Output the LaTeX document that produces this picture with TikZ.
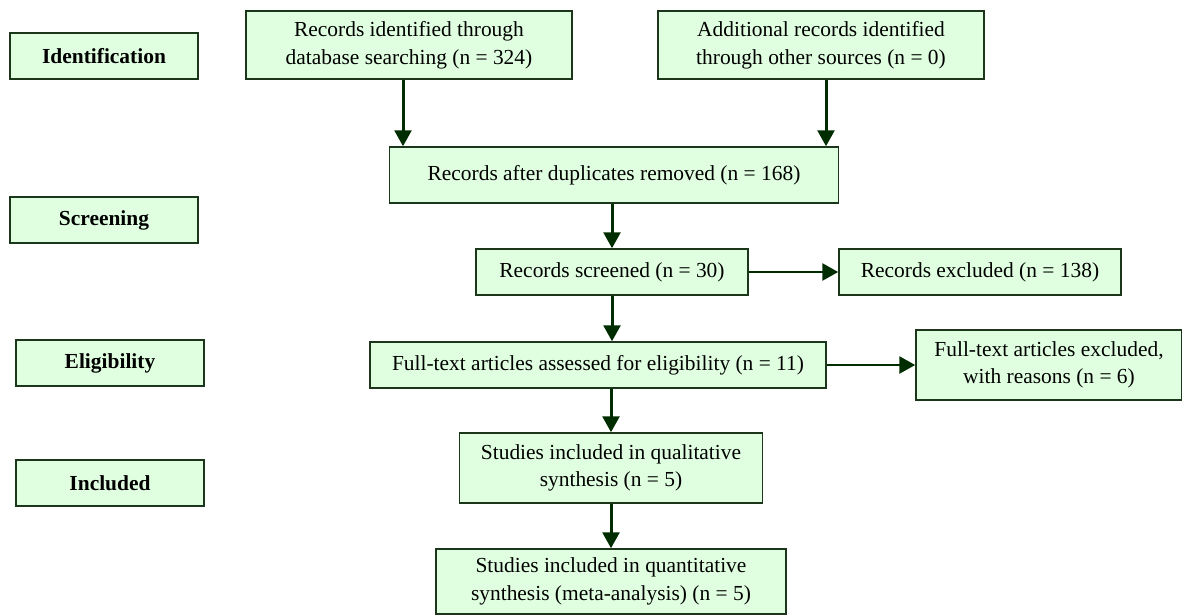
\documentclass[tikz,border=0pt]{standalone}
\usepackage{fontspec}
\setmainfont{Liberation Serif}
\usetikzlibrary{arrows.meta}
\definecolor{boxfill}{RGB}{224,255,224}
\definecolor{boxline}{RGB}{28,54,28}
\definecolor{arrline}{RGB}{0,45,0}
\begin{document}
\begin{tikzpicture}[x=0.02cm, y=-0.02cm,
	main/.style = {draw=boxline, fill=boxfill, line width=0.85pt, inner sep=0pt, align=center, font=\fontsize{12.2}{15.7}\selectfont},
	lab/.style = {main, minimum width=188*0.02cm, minimum height=46*0.02cm, font=\fontsize{12.2}{15.7}\selectfont\bfseries},
	arr/.style = {draw=arrline, line width=1.7pt, -{Triangle[length=9pt, width=9.5pt]}}]
	\useasboundingbox (0,0) rectangle (1182,615);
	\node[lab] (ident) at (104,56) {Identification};
	\node[lab] (screen) at (104,220) {Screening};
	\node[lab] (elig) at (110,363) {Eligibility};
	\node[lab] (incl) at (110,483) {Included};
	\node[main, minimum width=326*0.02cm, minimum height=68*0.02cm] (recdb) at (409,45) {Records identified through\\database searching (n = 324)};
	\node[main, minimum width=326*0.02cm, minimum height=68*0.02cm] (recother) at (821,45) {Additional records identified\\through other sources (n = 0)};
	\node[main, minimum width=449*0.02cm, minimum height=56*0.02cm] (dup) at (614,175) {Records after duplicates removed (n = 168)};
	\node[main, minimum width=272*0.02cm, minimum height=46*0.02cm] (screened) at (612,272) {Records screened (n = 30)};
	\node[main, minimum width=282*0.02cm, minimum height=46*0.02cm] (excl) at (980,272) {Records excluded (n = 138)};
	\node[main, minimum width=456*0.02cm, minimum height=46*0.02cm] (fulltext) at (598,365) {Full-text articles assessed for eligibility (n = 11)};
	\node[main, minimum width=266*0.02cm, minimum height=70*0.02cm] (ftexcl) at (1049,365) {Full-text articles excluded,\\with reasons (n = 6)};
	\node[main, minimum width=303*0.02cm, minimum height=70*0.02cm] (qual) at (611,468) {Studies included in qualitative\\synthesis (n = 5)};
	\node[main, minimum width=350*0.02cm, minimum height=65*0.02cm] (quant) at (611,581.5) {Studies included in quantitative\\synthesis (meta-analysis) (n = 5)};
	\draw[arr] (recdb.south) ++(-6,0) coordinate (a) -- (a |- dup.north);
	\draw[arr] (recother.south) ++(5,0) coordinate (b) -- (b |- dup.north);
	\draw[arr] (dup.south -| screened.north) -- (screened.north);
	\draw[arr] (screened.east) -- (excl.west);
	\draw[arr] (screened.south) -- (screened.south |- fulltext.north);
	\draw[arr] (fulltext.east) -- (ftexcl.west);
	\draw[arr] (fulltext.south -| qual.north) -- (qual.north);
	\draw[arr] (qual.south) -- (quant.north);
\end{tikzpicture}
\end{document}
